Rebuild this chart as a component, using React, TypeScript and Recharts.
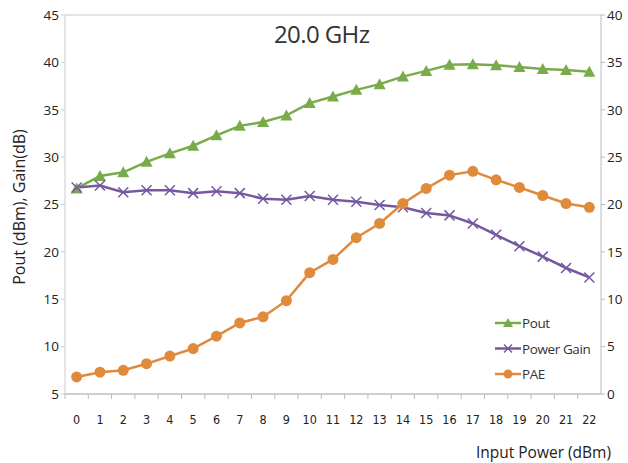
import React from 'react';
import { ComposedChart, Line, XAxis, YAxis, CartesianGrid } from 'recharts';

const inputPower = [0,1,2,3,4,5,6,7,8,9,10,11,12,13,14,15,16,17,18,19,20,21,22];
const pout = [26.7,28.0,28.4,29.5,30.4,31.2,32.3,33.3,33.7,34.4,35.7,36.4,37.1,37.7,38.5,39.1,39.75,39.8,39.7,39.5,39.3,39.2,39.0];
const gain = [26.8,27.0,26.3,26.5,26.5,26.2,26.4,26.2,25.6,25.5,25.9,25.5,25.3,24.95,24.7,24.1,23.85,23.0,21.8,20.6,19.5,18.3,17.3];
const pae = [1.8,2.3,2.5,3.2,4.0,4.8,6.1,7.5,8.15,9.85,12.8,14.2,16.5,18.0,20.1,21.7,23.1,23.5,22.6,21.8,20.95,20.1,19.7];
const leftTicks = [5,10,15,20,25,30,35,40,45];
const rightTicks = [0,5,10,15,20,25,30,35,40];
const seriesNames = ['Pout', 'Power Gain', 'PAE'];

const data = inputPower.map((x, i) => ({ x, pout: pout[i], gain: gain[i], pae: pae[i] }));

const GREEN = '#7aab4b';
const PURPLE = '#7558a0';
const ORANGE = '#e08a3c';
const FONT = '"Open Sans", "Noto Sans", sans-serif';

const Tri = (props: any) => {
  const { cx, cy } = props;
  if (cx == null || cy == null) return null;
  return <path d={`M${cx},${cy - 6} L${cx + 6},${cy + 5} L${cx - 6},${cy + 5} Z`} fill={GREEN} />;
};
const Cross = (props: any) => {
  const { cx, cy } = props;
  if (cx == null || cy == null) return null;
  return <path d={`M${cx - 5},${cy - 5} L${cx + 5},${cy + 5} M${cx - 5},${cy + 5} L${cx + 5},${cy - 5}`} stroke={PURPLE} strokeWidth={1.5} fill="none" />;
};
const Dot = (props: any) => {
  const { cx, cy } = props;
  if (cx == null || cy == null) return null;
  return <circle cx={cx} cy={cy} r={5.5} fill={ORANGE} />;
};

const XTick = (props: any) => {
  const { x, y, payload } = props;
  const half = 536 / 23 / 2;
  return (
    <g>
      <line x1={x - half} x2={x - half} y1={y - 8} y2={y - 3} stroke="#bbb" />
      <text x={x} y={y + 22} textAnchor="middle" fontSize={12.5} fill="#222" fontFamily='"DejaVu Sans Condensed", "Liberation Sans Narrow", sans-serif'>{payload.value}</text>
    </g>
  );
};

const colors = [GREEN, PURPLE, ORANGE];
const shapes = ['tri', 'x', 'dot'];

const LegendBox = () => (
  <svg width={124} height={76} style={{ position: 'absolute', left: 495, top: 315 }}>
    {seriesNames.map((name, i) => {
      const cy = 8 + i * 25.5;
      const color = colors[i];
      return (
        <g key={name}>
          <line x1={0} x2={26} y1={cy} y2={cy} stroke={color} strokeWidth={2.5} />
          {shapes[i] === 'tri' && <path d={`M13,${cy - 5} L18,${cy + 4} L8,${cy + 4} Z`} fill={color} />}
          {shapes[i] === 'x' && <path d={`M9,${cy - 4} L17,${cy + 4} M9,${cy + 4} L17,${cy - 4}`} stroke={color} strokeWidth={1.5} />}
          {shapes[i] === 'dot' && <circle cx={13} cy={cy} r={4.5} fill={color} />}
          <text x={27} y={cy + 5} fontSize={13.5} fill="#333" fontFamily={FONT} letterSpacing={-0.4}>{name}</text>
        </g>
      );
    })}
  </svg>
);

export default function App() {
  return (
    <div style={{ position: 'absolute', left: 0, top: 0, width: 628, height: 463, background: '#fff' }}>
      <ComposedChart width={628} height={463} data={data} margin={{ top: 15, right: 0, bottom: 0, left: 0 }}>
        <CartesianGrid vertical={false} stroke="#c8c8c8" />
        <XAxis dataKey="x" scale="band" height={69} tickLine={false} axisLine={{ stroke: '#bbb' }} tick={<XTick />} interval={0}
          label={() => <text x={611} y={458} textAnchor="end" fontSize={15.5} fill="#222" fontFamily={FONT}>Input Power (dBm)</text>} />
        <YAxis yAxisId="left" width={65} domain={[5, 45]} ticks={leftTicks} interval={0}
          axisLine={{ stroke: '#ccc' }} tickLine={{ stroke: '#ccc' }} tickSize={4}
          tick={{ fontSize: 13.5, fill: '#222', fontFamily: FONT }}
          label={(p: any) => {
            const cy = 207;
            return <text x={19} y={cy} transform={`rotate(-90, 19, ${cy})`} textAnchor="middle" dominantBaseline="central" fontSize={16} fill="#222" fontFamily={FONT}>Pout (dBm), Gain(dB)</text>;
          }} />
        <YAxis yAxisId="right" orientation="right" width={27} domain={[0, 40]} ticks={rightTicks} interval={0}
          axisLine={{ stroke: '#bbb' }} tickLine={{ stroke: '#bbb' }} tickSize={4}
          tick={{ fontSize: 13.5, fill: '#222', fontFamily: FONT, textAnchor: 'start' }} />
        <Line yAxisId="left" dataKey="pout" name="Pout" stroke={GREEN} strokeWidth={2.5} dot={<Tri />} isAnimationActive={false} />
        <Line yAxisId="left" dataKey="gain" name="Power Gain" stroke={PURPLE} strokeWidth={2.5} dot={<Cross />} isAnimationActive={false} />
        <Line yAxisId="right" dataKey="pae" name="PAE" stroke={ORANGE} strokeWidth={2.5} dot={<Dot />} isAnimationActive={false} />
      </ComposedChart>
      <LegendBox />
      <div style={{ position: 'absolute', left: 274, top: 16, fontSize: 24, color: '#333', fontFamily: FONT, letterSpacing: -0.6, lineHeight: '36px' }}>20.0 GHz</div>
    </div>
  );
}
